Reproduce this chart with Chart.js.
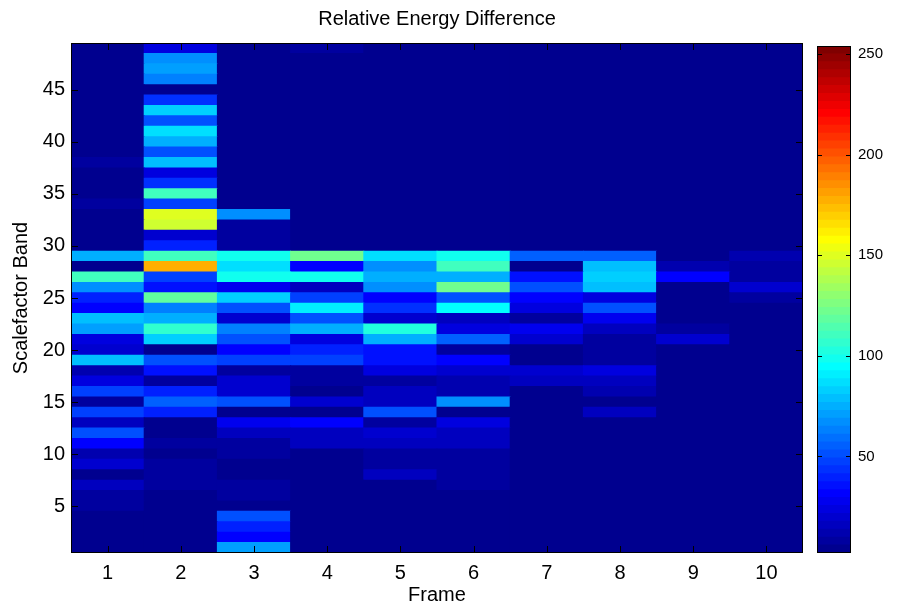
<!DOCTYPE html>
<html>
<head>
  <title>Relative Energy Difference</title>
  <style>
    body {
      margin: 0;
      padding: 0;
      background-color: white;
    }

    #wrap {
      position: relative;
      width: 904px;
      height: 610px;
    }

    #main-chart {
      position: absolute;
      left: 0;
      top: 0;
    }

    #colorbar {
      position: absolute;
      left: 800px;
      top: 0;
    }
  </style>
</head>
<body>
  <div id="wrap">
    <canvas id="main-chart" width="904" height="610"></canvas>
    <canvas id="colorbar" width="104" height="610"></canvas>
  </div>

  <script src="https://cdn.jsdelivr.net/npm/chart.js"></script>
  <script>
    const frames = ["1", "2", "3", "4", "5", "6", "7", "8", "9", "10"];
    const bands = [1, 2, 3, 4, 5, 6, 7, 8, 9, 10, 11, 12, 13, 14, 15, 16, 17, 18, 19, 20,
      21, 22, 23, 24, 25, 26, 27, 28, 29, 30, 31, 32, 33, 34, 35, 36, 37, 38, 39, 40,
      41, 42, 43, 44, 45, 46, 47, 48, 49];
    const yTicks = [5, 10, 15, 20, 25, 30, 35, 40, 45];
    const cbarTicks = [50, 100, 150, 200, 250];
    const cmin = 2;
    const cmax = 254;

    // values per frame, band 1 first
    const frame1 = [3, 3, 3, 3, 7, 8, 14, 5, 18, 12, 30, 53, 14, 48, 8, 48, 22, 12, 78, 18,
      25, 72, 78, 30, 40, 65, 110, 5, 75, 3, 3, 3, 3, 7, 3, 3, 3, 7, 3, 3,
      3, 3, 3, 3, 3, 3, 3, 3, 3];
    const frame2 = [3, 3, 3, 3, 3, 3, 6, 7, 8, 3, 9, 5, 5, 40, 56, 40, 6, 37, 53, 4,
      81, 108, 75, 62, 120, 34, 48, 178, 110, 40, 18, 145, 148, 48, 110, 44, 22, 78, 53, 75,
      85, 53, 81, 44, 5, 62, 72, 68, 22];
    const frame3 = [72, 32, 40, 50, 4, 6, 6, 5, 5, 9, 9, 15, 26, 4, 50, 18, 18, 6, 48, 30,
      53, 62, 18, 53, 81, 27, 98, 88, 97, 8, 6, 6, 68, 3, 3, 3, 3, 3, 3, 3,
      3, 3, 3, 3, 3, 3, 3, 3, 3];
    const frame4 = [3, 3, 3, 3, 3, 3, 3, 3, 3, 3, 14, 15, 30, 3, 18, 4, 6, 6, 46, 40,
      22, 75, 53, 92, 48, 15, 97, 30, 122, 3, 3, 3, 3, 3, 3, 3, 3, 3, 3, 3,
      3, 3, 3, 3, 3, 3, 3, 3, 7];
    const frame5 = [3, 3, 3, 3, 3, 3, 3, 14, 6, 6, 14, 18, 6, 50, 16, 14, 8, 22, 34, 34,
      75, 102, 18, 44, 32, 65, 75, 65, 88, 3, 3, 3, 3, 3, 3, 3, 3, 3, 3, 3,
      3, 3, 3, 3, 3, 3, 3, 3, 3];
    const frame6 = [3, 3, 3, 3, 3, 3, 8, 8, 8, 9, 17, 15, 22, 4, 68, 11, 11, 18, 30, 8,
      56, 22, 15, 95, 53, 122, 75, 110, 97, 3, 3, 3, 3, 3, 3, 3, 3, 3, 3, 3,
      3, 3, 3, 3, 3, 3, 3, 3, 3];
    const frame7 = [3, 3, 3, 3, 3, 3, 3, 3, 3, 3, 3, 3, 3, 3, 3, 3, 15, 18, 5, 5,
      20, 27, 8, 22, 32, 53, 35, 4, 56, 3, 3, 3, 3, 3, 3, 3, 3, 3, 3, 3,
      3, 3, 3, 3, 3, 3, 3, 3, 3];
    const frame8 = [3, 3, 3, 3, 3, 3, 3, 3, 3, 3, 3, 3, 3, 14, 4, 12, 15, 22, 6, 6,
      6, 15, 28, 50, 22, 80, 84, 80, 56, 3, 3, 3, 3, 3, 3, 3, 3, 3, 3, 3,
      3, 3, 3, 3, 3, 3, 3, 3, 3];
    const frame9 = [3, 3, 3, 3, 3, 3, 3, 3, 3, 3, 3, 3, 3, 3, 3, 3, 3, 3, 3, 3,
      18, 7, 3, 3, 3, 3, 32, 12, 3, 3, 3, 3, 3, 3, 3, 3, 3, 3, 3, 3,
      3, 3, 3, 3, 3, 3, 3, 3, 3];
    const frame10 = [3, 3, 3, 3, 3, 3, 3, 3, 3, 3, 3, 3, 3, 3, 3, 3, 3, 3, 3, 3,
      3, 3, 3, 3, 6, 18, 6, 9, 10, 3, 3, 3, 3, 3, 3, 3, 3, 3, 3, 3,
      3, 3, 3, 3, 3, 3, 3, 3, 3];
    const energyDiff = [frame1, frame2, frame3, frame4, frame5, frame6, frame7, frame8, frame9, frame10];

    Chart.defaults.font.family = "'Liberation Sans', Arial, sans-serif";
    Chart.defaults.color = "#000";

    // matlab style jet colormap
    function jetMap(m) {
      const n = Math.ceil(m / 4);
      const u = [];
      for (let i = 1; i <= n; i++) u.push(i / n);
      for (let i = 1; i < n; i++) u.push(1);
      for (let i = n; i >= 1; i--) u.push(i / n);
      const g0 = Math.ceil(n / 2) - (m % 4 === 1 ? 1 : 0);
      const J = [];
      for (let i = 0; i < m; i++) J.push([0, 0, 0]);
      for (let k = 0; k < u.length; k++) {
        const gi = g0 + k + 1;
        const ri = gi + n;
        const bi = gi - n;
        if (ri <= m) J[ri - 1][0] = u[k];
        if (gi <= m) J[gi - 1][1] = u[k];
        if (bi >= 1) J[bi - 1][2] = u[k];
      }
      return J.map(c => `rgb(${Math.round(c[0] * 255)},${Math.round(c[1] * 255)},${Math.round(c[2] * 255)})`);
    }

    const jet = jetMap(64);

    function colorFor(v) {
      let idx = Math.floor((v - cmin) / (cmax - cmin) * jet.length);
      idx = Math.max(0, Math.min(jet.length - 1, idx));
      return jet[idx];
    }

    // fill the plot area first so no white seams show between cells
    const areaFill = {
      id: "areaFill",
      beforeDatasetsDraw(chart) {
        const a = chart.chartArea;
        chart.ctx.save();
        chart.ctx.fillStyle = jet[0];
        chart.ctx.fillRect(a.left, a.top, a.right - a.left, a.bottom - a.top);
        chart.ctx.restore();
      }
    };

    // box and inward ticks, like matlab axes
    function boxTicks(len, xTicks) {
      return {
        id: "boxTicks",
        afterDatasetsDraw(chart) {
          const ctx = chart.ctx;
          const a = chart.chartArea;
          const ys = chart.scales.y;
          ctx.save();
          ctx.strokeStyle = "#000";
          ctx.lineWidth = 1;
          ctx.beginPath();
          ys.ticks.forEach(t => {
            const py = Math.round(ys.getPixelForValue(t.value)) + 0.5;
            ctx.moveTo(a.left, py);
            ctx.lineTo(a.left + len, py);
            ctx.moveTo(a.right, py);
            ctx.lineTo(a.right - len, py);
          });
          if (xTicks) {
            const xs = chart.scales.x;
            xs.ticks.forEach((t, i) => {
              const px = Math.round(xs.getPixelForTick(i)) + 0.5;
              ctx.moveTo(px, a.bottom);
              ctx.lineTo(px, a.bottom - len);
              ctx.moveTo(px, a.top);
              ctx.lineTo(px, a.top + len);
            });
          }
          ctx.stroke();
          ctx.strokeRect(Math.round(a.left) + 0.5, Math.round(a.top) + 0.5,
            Math.round(a.right - a.left) - 1, Math.round(a.bottom - a.top) - 1);
          ctx.restore();
        }
      };
    }

    const bandSets = bands.map((b, j) => ({
      label: "Band " + b,
      data: frames.map(() => [b - 0.5, b + 0.5]),
      backgroundColor: energyDiff.map(col => colorFor(col[j])),
      borderWidth: 0,
      inflateAmount: 0.5
    }));

    new Chart(document.getElementById("main-chart"), {
      type: "bar",
      data: { labels: frames, datasets: bandSets },
      options: {
        responsive: false,
        animation: false,
        layout: { padding: { left: 0, right: 101, top: 0, bottom: 0 } },
        datasets: {
          bar: { grouped: false, barPercentage: 1, categoryPercentage: 1 }
        },
        plugins: {
          legend: { display: false },
          tooltip: { enabled: false },
          title: {
            display: true,
            text: "Relative Energy Difference",
            fullSize: false,
            color: "#000",
            font: { size: 20, weight: "normal" },
            padding: { top: 7, bottom: 12 }
          }
        },
        scales: {
          x: {
            grid: { display: false, drawTicks: false },
            border: { display: false },
            ticks: { font: { size: 20 }, padding: 8 },
            title: { display: true, text: "Frame", font: { size: 20 }, padding: { top: 0, bottom: 3 } },
            afterFit: s => { s.height = 57; }
          },
          y: {
            min: 0.5,
            max: 49.5,
            grid: { display: false, drawTicks: false },
            border: { display: false },
            afterBuildTicks: s => { s.ticks = yTicks.map(v => ({ value: v })); },
            ticks: { font: { size: 20 }, padding: 6, autoSkip: false },
            title: { display: true, text: "Scalefactor Band", font: { size: 20 }, padding: { top: 9, bottom: 0 } },
            afterFit: s => { s.width = 71; }
          }
        }
      },
      plugins: [areaFill, boxTicks(7, true)]
    });

    // colorbar: one floating bar per colormap level
    const step = (cmax - cmin) / jet.length;
    const levelSets = jet.map((c, i) => ({
      data: [[cmin + i * step, cmin + (i + 1) * step]],
      backgroundColor: c,
      borderWidth: 0,
      inflateAmount: 0.5
    }));

    new Chart(document.getElementById("colorbar"), {
      type: "bar",
      data: { labels: [""], datasets: levelSets },
      options: {
        responsive: false,
        animation: false,
        layout: { padding: { left: 17, right: 0, top: 46, bottom: 57 } },
        datasets: {
          bar: { grouped: false, barPercentage: 1, categoryPercentage: 1 }
        },
        plugins: { legend: { display: false }, tooltip: { enabled: false } },
        scales: {
          x: { display: false },
          y: {
            position: "right",
            min: cmin,
            max: cmax,
            grid: { display: false, drawTicks: false },
            border: { display: false },
            afterBuildTicks: s => { s.ticks = cbarTicks.map(v => ({ value: v })); },
            ticks: { font: { size: 15 }, padding: 7, autoSkip: false },
            afterFit: s => { s.width = 53; }
          }
        }
      },
      plugins: [boxTicks(5, false)]
    });
  </script>
</body>
</html>
